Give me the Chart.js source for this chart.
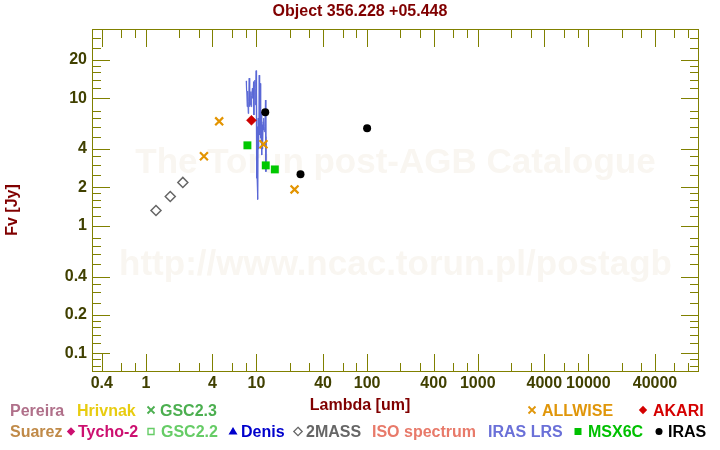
<!DOCTYPE html>
<html><head><meta charset="utf-8">
<script src="https://cdn.jsdelivr.net/npm/chart.js@4"></script>
<style>html,body{margin:0;padding:0;background:#fff}#wrap{width:720px;height:450px;position:relative}</style>
</head><body><div id="wrap"><canvas id="c" width="720" height="450"></canvas></div>
<script>
// ---------- texts ----------
const titleText = "Object 356.228 +05.448";
const xAxisTitle = "Lambda [um]";
const yAxisTitle = "Fv [Jy]";
const watermark1 = "The Torun post-AGB Catalogue";
const watermark2 = "http://www.ncac.torun.pl/postagb";

// ---------- ticks ----------
const xMajorTicks = [0.4, 1, 4, 10, 40, 100, 400, 1000, 4000, 10000, 40000];
const xMinorTicks = [0.6, 0.8, 2, 3, 6, 8, 20, 30, 60, 80, 200, 300, 600, 800, 2000, 3000, 6000, 8000, 20000, 30000, 60000, 80000];
const yMajorTicks = [0.1, 0.2, 0.4, 1, 2, 4, 10, 20];
const yMinorTicks = [0.08, 0.09, 0.12, 0.14, 0.16, 0.18, 0.25, 0.3, 0.35, 0.5, 0.6, 0.7, 0.8, 1.2, 1.4, 1.6, 1.8, 2.5, 3, 3.5, 5, 6, 7, 8, 12, 14, 16, 18, 25, 30];

// ---------- data ----------
const twomassLambda = [1.235, 1.662, 2.159];
const twomassFlux = [1.32, 1.70, 2.19];
const allwiseLambda = [3.35, 4.60, 11.56, 22.08];
const allwiseFlux = [3.51, 6.6, 4.36, 1.93];
const akariLambda = [9.0];
const akariFlux = [6.72];
const msxLambda = [8.28, 12.13, 14.65];
const msxFlux = [4.28, 2.98, 2.77];
const irasLambda = [12, 25, 100];
const irasFlux = [7.77, 2.54, 5.82];
const lrsLambda = [8.07, 8.10, 8.16, 8.24, 8.30, 8.36, 8.42, 8.50, 8.59, 8.65, 8.72, 8.80, 8.90, 8.95, 9.05, 9.18, 9.30, 9.40, 9.47, 9.55, 9.67, 9.75, 9.85, 9.92, 9.96, 10.02, 10.08, 10.12, 10.20, 10.30, 10.36, 10.45, 10.58, 10.65, 10.72, 10.80, 10.88, 10.95, 11.03, 11.10, 11.20, 11.26, 11.35, 11.49, 11.58, 11.67, 11.75, 11.90, 12.05, 12.16, 12.20];
const lrsFlux = [13.7, 11.4, 12.5, 8.6, 11.4, 10.6, 7.6, 9.5, 14.4, 8.6, 11.3, 8.9, 11.3, 8.6, 10.5, 12.0, 10.0, 13.5, 7.4, 12.5, 13.9, 8.9, 12.0, 16.5, 2.36, 9.0, 11.3, 2.36, 6.0, 1.61, 7.0, 4.0, 15.2, 5.15, 10.0, 13.1, 4.86, 7.5, 5.15, 7.85, 3.59, 6.2, 4.0, 6.55, 5.64, 7.0, 5.47, 6.0, 9.7, 2.66, 5.0];

// legend series names (rows)
const legendRow1 = ["Pereira", "Hrivnak", "GSC2.3", "ALLWISE", "AKARI"];
const legendRow2 = ["Suarez", "Tycho-2", "GSC2.2", "Denis", "2MASS", "ISO spectrum", "IRAS LRS", "MSX6C", "IRAS"];

// ---------- styles ----------
const FONT = "'Liberation Sans', Arial, Helvetica, sans-serif";
const AXIS_COLOR = '#808000';
const LABEL_COLOR = '#404000';
const TITLE_COLOR = '#800000';
const legendStyle = {
  "Pereira":      {color:'#b0708a', sym:null,      tx:10},
  "Hrivnak":      {color:'#e8cc10', sym:null,      tx:77},
  "GSC2.3":       {color:'#4caf50', sym:'x',       sx:151, tx:160},
  "ALLWISE":      {color:'#e0960a', sym:'x',       sx:532, tx:542},
  "AKARI":        {color:'#d40000', sym:'diamond', sx:643, tx:653},
  "Suarez":       {color:'#c08a48', sym:null,      tx:10},
  "Tycho-2":      {color:'#cc1070', sym:'diamond', sx:71,  tx:78},
  "GSC2.2":       {color:'#66cc66', sym:'squareOpen', sx:151, tx:161},
  "Denis":        {color:'#0000cc', sym:'triangle', sx:233, tx:241},
  "2MASS":        {color:'#666666', sym:'diamondOpen', sx:298, tx:306},
  "ISO spectrum": {color:'#e87a6a', sym:null,      tx:372},
  "IRAS LRS":     {color:'#6a70d8', sym:null,      tx:488},
  "MSX6C":        {color:'#00c000', sym:'square',  sx:578, tx:588},
  "IRAS":         {color:'#000000', sym:'circle',  sx:659, tx:668}
};

const zip = (xs, ys) => xs.map((x, i) => ({x: x, y: ys[i]}));

const datasets = [
  {label:'IRAS', data: zip(irasLambda, irasFlux), pointStyle:'circle', pointRadius:4, backgroundColor:'#000', borderColor:'#000', borderWidth:0, order:1},
  {label:'MSX6C', data: zip(msxLambda, msxFlux), pointStyle:'rect', pointRadius:5.6, backgroundColor:'#00c800', borderColor:'#00c800', borderWidth:0, order:2},
  {label:'AKARI', data: zip(akariLambda, akariFlux), pointStyle:'rectRot', pointRadius:5, backgroundColor:'#cc0000', borderColor:'#cc0000', borderWidth:0.5, order:3},
  {label:'ALLWISE', data: zip(allwiseLambda, allwiseFlux), pointStyle:'crossRot', pointRadius:5.6, backgroundColor:'#e39400', borderColor:'#e39400', borderWidth:2.2, order:4},
  {label:'2MASS', data: zip(twomassLambda, twomassFlux), pointStyle:'rectRot', pointRadius:5, backgroundColor:'rgba(0,0,0,0)', borderColor:'#666666', borderWidth:1.5, order:5},
  {label:'IRAS LRS', data: zip(lrsLambda, lrsFlux), showLine:true, pointRadius:0, borderColor:'#5a68d6', borderWidth:1, fill:false, tension:0, order:10},
  {label:'Pereira', data: [], order:20},
  {label:'Hrivnak', data: [], order:20},
  {label:'GSC2.3', data: [], order:20},
  {label:'Suarez', data: [], order:20},
  {label:'Tycho-2', data: [], order:20},
  {label:'GSC2.2', data: [], order:20},
  {label:'Denis', data: [], order:20},
  {label:'ISO spectrum', data: [], order:20}
];

function drawSym(ctx, sym, x, y, color) {
  ctx.save();
  ctx.fillStyle = color; ctx.strokeStyle = color;
  ctx.beginPath();
  if (sym === 'x') {
    const s = 3.5; ctx.lineWidth = 1.8;
    ctx.moveTo(x - s, y - s); ctx.lineTo(x + s, y + s);
    ctx.moveTo(x + s, y - s); ctx.lineTo(x - s, y + s); ctx.stroke();
  } else if (sym === 'diamond' || sym === 'diamondOpen') {
    const s = 4.2;
    ctx.moveTo(x, y - s); ctx.lineTo(x + s, y); ctx.lineTo(x, y + s); ctx.lineTo(x - s, y); ctx.closePath();
    if (sym === 'diamond') ctx.fill(); else { ctx.lineWidth = 1.3; ctx.stroke(); }
  } else if (sym === 'square') {
    ctx.rect(x - 3.5, y - 3.5, 7, 7); ctx.fill();
  } else if (sym === 'squareOpen') {
    ctx.lineWidth = 1.4; ctx.rect(x - 3, y - 3, 6, 6); ctx.stroke();
  } else if (sym === 'triangle') {
    ctx.moveTo(x, y - 4.5); ctx.lineTo(x + 4.5, y + 3); ctx.lineTo(x - 4.5, y + 3); ctx.closePath(); ctx.fill();
  } else if (sym === 'circle') {
    ctx.arc(x, y, 3.5, 0, Math.PI * 2); ctx.fill();
  }
  ctx.restore();
}

const decor = {
  id: 'decor',
  beforeDatasetsDraw(chart) {
    const {ctx, chartArea: a} = chart;
    ctx.save();
    ctx.font = 'bold 35px ' + FONT;
    ctx.fillStyle = '#f9f6f1';
    ctx.textAlign = 'center'; ctx.textBaseline = 'alphabetic';
    const cx = (a.left + a.right) / 2;
    ctx.fillText(watermark1, cx, a.top + 144);
    ctx.fillText(watermark2, cx, a.top + 246);
    ctx.restore();
  },
  afterDraw(chart) {
    const {ctx, chartArea: a, scales} = chart;
    const xs = scales.x, ys = scales.y;
    ctx.save();
    // frame
    ctx.strokeStyle = AXIS_COLOR; ctx.lineWidth = 1;
    ctx.strokeRect(Math.round(a.left) + 0.5, Math.round(a.top) + 0.5, Math.round(a.right - a.left) - 1, Math.round(a.bottom - a.top) - 1);
    ctx.beginPath();
    const L = 18, S = 9;
    const xt = (v, len) => {
      const px = Math.round(xs.getPixelForValue(v)) + 0.5;
      if (px < a.left || px > a.right) return;
      ctx.moveTo(px, a.bottom); ctx.lineTo(px, a.bottom - len);
      ctx.moveTo(px, a.top); ctx.lineTo(px, a.top + len);
    };
    const yt = (v, len) => {
      const py = Math.round(ys.getPixelForValue(v)) + 0.5;
      if (py < a.top || py > a.bottom) return;
      ctx.moveTo(a.left, py); ctx.lineTo(a.left + len, py);
      ctx.moveTo(a.right, py); ctx.lineTo(a.right - len, py);
    };
    xMajorTicks.forEach(v => xt(v, L));
    xMinorTicks.forEach(v => xt(v, S));
    yMajorTicks.forEach(v => yt(v, L));
    yMinorTicks.forEach(v => yt(v, S));
    ctx.stroke();

    // axis titles
    ctx.fillStyle = TITLE_COLOR;
    ctx.font = 'bold 16px ' + FONT;
    ctx.textAlign = 'center'; ctx.textBaseline = 'alphabetic';
    ctx.fillText(xAxisTitle, 360, 410);
    ctx.save();
    ctx.translate(17, 210);
    ctx.rotate(-Math.PI / 2);
    ctx.fillText(yAxisTitle, 0, 0);
    ctx.restore();

    // legend
    ctx.textAlign = 'left';
    const rows = [[legendRow1, 415.5], [legendRow2, 437]];
    rows.forEach(([names, base]) => {
      names.forEach(n => {
        const st = legendStyle[n];
        if (st.sym) drawSym(ctx, st.sym, st.sx, base - 5.5, st.color);
        ctx.fillStyle = st.color;
        ctx.fillText(n, st.tx, base);
      });
    });
    ctx.restore();
  }
};

const tickFont = {family: FONT, size: 16, weight: 'bold'};

new Chart(document.getElementById('c'), {
  type: 'scatter',
  data: {datasets: datasets},
  plugins: [decor],
  options: {
    responsive: false,
    devicePixelRatio: 1,
    animation: false,
    events: [],
    layout: {padding: 0},
    plugins: {
      legend: {display: false},
      tooltip: {enabled: false},
      title: {display: true, text: titleText, color: TITLE_COLOR, font: {family: FONT, size: 16, weight: 'bold'}, padding: {top: 2.4, bottom: 7.4}}
    },
    scales: {
      x: {
        type: 'logarithmic', position: 'bottom', min: 0.326, max: 100000, bounds: 'data',
        grid: {display: false, drawTicks: false}, border: {display: false},
        afterBuildTicks: s => { s.ticks = xMajorTicks.map(v => ({value: v})); },
        afterFit: s => { s.height = 78; },
        ticks: {autoSkip: false, maxRotation: 0, minRotation: 0, padding: 2, color: LABEL_COLOR, font: tickFont, callback: v => String(v)}
      },
      y: {
        type: 'logarithmic', position: 'left', min: 0.0713, max: 35, bounds: 'data',
        grid: {display: false, drawTicks: false}, border: {display: false},
        afterBuildTicks: s => { s.ticks = yMajorTicks.map(v => ({value: v})); },
        afterFit: s => { s.width = 92; },
        ticks: {autoSkip: false, padding: 5, color: LABEL_COLOR, font: tickFont, callback: v => String(v)}
      },
      y2: {
        type: 'linear', position: 'right', display: true,
        grid: {display: false, drawTicks: false}, border: {display: false},
        ticks: {display: false},
        afterFit: s => { s.width = 21; }
      }
    }
  }
});
</script>
</body></html>
